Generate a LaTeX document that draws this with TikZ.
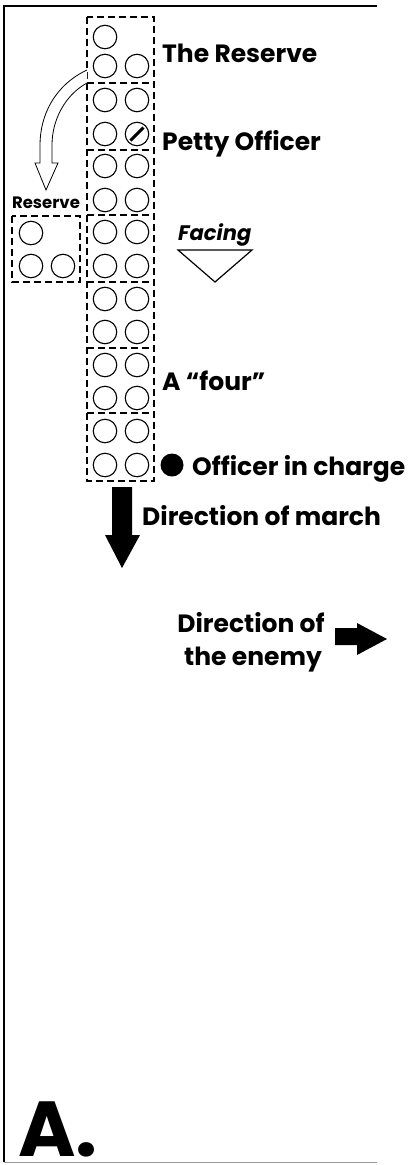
\documentclass[tikz,border=0pt]{standalone}
\usepackage{fontspec}
\setmainfont{Poppins}[UprightFont=* Bold, ItalicFont=* Bold Italic, BoldFont=* Bold]
\begin{document}
\begin{tikzpicture}[x=1pt,y=-1pt,
  man/.style={circle, draw, line width=1.1pt, minimum size=23.5pt, inner sep=0pt},
  dbox/.style={draw, line width=1.2pt, dash pattern=on 7pt off 4pt},
  lbl/.style={anchor=base west, inner sep=0pt, font=\fontsize{25}{30}\selectfont},
  bigarrow/.style={fill=black, draw=none}]
\useasboundingbox (0,0) rectangle (419,1165);
% frame
\draw[line width=1.5pt] (377,6) -- (4,6) -- (4,1162);
\draw[line width=1pt, black!40] (4,1162) -- (377,1162);
% column box
\draw[dbox] (87,17) rectangle (154,481);
\foreach \y in {83,150,215,282,348,413}
  \draw[dbox] (87,\y) -- (154,\y);
% men
\node[man] (m1a) at (105,37) {};
\foreach \r/\y in {2/66,3/100,4/134,5/166,6/200,7/232,8/266,9/299,10/332,11/365,12/398,13/431,14/465}{
  \node[man] (m\r a) at (105,\y) {};
}
\foreach \r/\y in {2/66,3/100,5/166,6/200,7/232,8/266,9/299,10/332,11/365,12/398,13/431,14/465}{
  \node[man] (m\r b) at (137,\y) {};
}
\node[man] (petty) at (137,134) {};
\draw[line width=3pt] ([shift={(-6.5,6.5)}]petty.center) -- ([shift={(6.5,-6.5)}]petty.center);
% reserve box
\draw[dbox] (12,216) rectangle (80,282);
\node[man] (r1) at (31,233) {};
\node[man] (r2) at (31,266) {};
\node[man] (r3) at (63,266) {};
\node[anchor=base, inner sep=0pt, font=\fontsize{16.5}{20}\selectfont] (reslbl) at (46,208) {Reserve};
% curved hollow arrow
\draw[line width=0.8pt, fill=white] (87,70) .. controls (55,85) and (40,115) .. (40,145) -- (40,163) -- (35,163) -- (46,190) -- (58,163) -- (52,163) -- (52,145) .. controls (52,120) and (65,95) .. (87,83);
% labels
\node[lbl] (reserve) at (162,62) {The Reserve};
\node[lbl] (pettylbl) at (162,150) {Petty Officer};
\node[lbl, font=\fontsize{21}{26}\selectfont\itshape] (facing) at (178,240) {Facing};
\draw[line width=1.2pt] (178,250) -- (252,250) -- (215,282) -- cycle;
\node[lbl] (four) at (162,390) {A “four”};
\node[circle, fill=black, minimum size=23pt, inner sep=0pt] (officer) at (172,465) {};
\node[lbl] (offlbl) at (192,475) {Officer in charge};
% direction of march
\fill[bigarrow] (112,487) -- (132,487) -- (132,535) -- (140,535) -- (122,568) -- (105,535) -- (112,535) -- cycle;
\node[lbl] (march) at (142,525) {Direction of march};
% direction of enemy
\node[lbl, anchor=base] (enemy1) at (251,632) {Direction of};
\node[lbl, anchor=base] (enemy2) at (253,665) {the enemy};
\fill[bigarrow] (335,628) -- (357,628) -- (357,623) -- (387,639) -- (357,655) -- (357,645) -- (335,645) -- cycle;
% big A.
\node[anchor=base west, inner sep=0pt, text depth=0pt, font=\fontsize{78}{80}\selectfont\bfseries] (biga) at (18,1156) {A.};
\end{tikzpicture}
\end{document}
